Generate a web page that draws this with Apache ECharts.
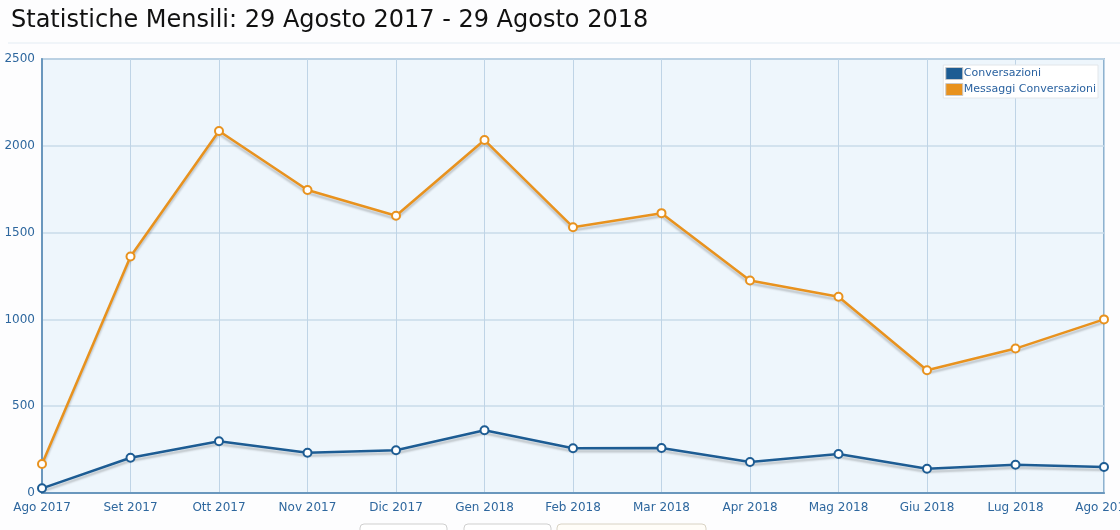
<!DOCTYPE html>
<html style="height: 100%">
<head>
<meta charset="utf-8">
<script src="https://cdn.jsdelivr.net/npm/echarts@6/dist/echarts.min.js"></script>
</head>
<body style="height: 100%; margin: 0; overflow: hidden; background: #fdfdfe;">
<div id="container" style="width: 1120px; height: 530px;"></div>
<script>
var months = ['Ago 2017', 'Set 2017', 'Ott 2017', 'Nov 2017', 'Dic 2017', 'Gen 2018',
              'Feb 2018', 'Mar 2018', 'Apr 2018', 'Mag 2018', 'Giu 2018', 'Lug 2018', 'Ago 2018'];
var conversazioni = [27, 203, 298, 232, 246, 361, 258, 259, 179, 225, 140, 163, 150];
var messaggi = [167, 1362, 2085, 1745, 1597, 2033, 1531, 1612, 1224, 1130, 707, 832, 1000];
var yTicks = [0, 500, 1000, 1500, 2000, 2500];

var font = 'DejaVu Sans, Verdana, sans-serif';
var chart = echarts.init(document.getElementById('container'));

function lineSeries(name, data, color) {
  return {
    name: name,
    type: 'line',
    data: data,
    symbol: 'circle',
    symbolSize: 8,
    showAllSymbol: true,
    lineStyle: {
      color: color, width: 2.5,
      shadowColor: 'rgba(0,0,0,0.2)', shadowBlur: 2, shadowOffsetY: 3
    },
    itemStyle: { color: '#ffffff', borderColor: color, borderWidth: 2 },
    emphasis: { disabled: true },
    z: 3
  };
}

chart.setOption({
  animation: false,
  title: {
    text: 'Statistiche Mensili: 29 Agosto 2017 - 29 Agosto 2018',
    left: 6, top: 4,
    textStyle: { fontFamily: font, fontSize: 24, fontWeight: 'normal', color: '#111111' }
  },
  legend: {
    orient: 'vertical',
    right: 22, top: 65,
    itemWidth: 17, itemHeight: 12, itemGap: 3,
    icon: 'rect',
    padding: [2, 2],
    backgroundColor: '#ffffff',
    borderColor: '#e2e6ea', borderWidth: 1,
    textStyle: { fontFamily: font, fontSize: 11, color: '#2a62a0', padding: [0, 0, 0, -4] },
    data: [
      { name: 'Conversazioni', itemStyle: { color: '#1d5c93', borderColor: '#c9c9c9', borderWidth: 1 } },
      { name: 'Messaggi Conversazioni', itemStyle: { color: '#e8921e', borderColor: '#c9c9c9', borderWidth: 1 } }
    ]
  },
  grid: {
    left: 42, right: 16, top: 59, bottom: 37,
    outerBoundsMode: 'none',
    containLabel: false,
    show: true,
    backgroundColor: '#eef6fc',
    borderColor: '#6f9cc0', borderWidth: 1.5
  },
  xAxis: {
    type: 'category',
    data: months,
    boundaryGap: false,
    axisLine: { lineStyle: { color: '#6a97bd', width: 2 } },
    axisTick: { show: false },
    axisLabel: { fontFamily: font, fontSize: 12, color: '#2e679e', margin: 9, interval: 0 },
    splitLine: { show: true, lineStyle: { color: '#bfd4e6', width: 1 } }
  },
  yAxis: {
    type: 'value',
    min: yTicks[0], max: yTicks[yTicks.length - 1], interval: 500,
    axisLine: { show: true, lineStyle: { color: '#6a97bd', width: 2 } },
    axisTick: { show: false },
    axisLabel: {
      fontFamily: font, fontSize: 12, color: '#2e679e', margin: 7,
      formatter: function (v) { return String(v); }
    },
    splitLine: { show: true, lineStyle: { color: '#c8dbea', width: 1.5 } }
  },
  graphic: [
    { type: 'line', shape: { x1: 8, y1: 43, x2: 1120, y2: 43 }, style: { stroke: '#e3ecf3', lineWidth: 1 } },
    { type: 'rect', shape: { x: 360, y: 524, width: 87, height: 14, r: 4 }, style: { fill: '#ffffff', stroke: '#cfcfcf' } },
    { type: 'rect', shape: { x: 464, y: 524, width: 87, height: 14, r: 4 }, style: { fill: '#ffffff', stroke: '#cfcfcf' } },
    { type: 'rect', shape: { x: 557, y: 524, width: 149, height: 14, r: 4 }, style: { fill: '#fffdf8', stroke: '#d8d2c4' } }
  ],
  series: [
    lineSeries('Conversazioni', conversazioni, '#1d5c93'),
    lineSeries('Messaggi Conversazioni', messaggi, '#e8921e')
  ]
});
</script>
</body>
</html>
